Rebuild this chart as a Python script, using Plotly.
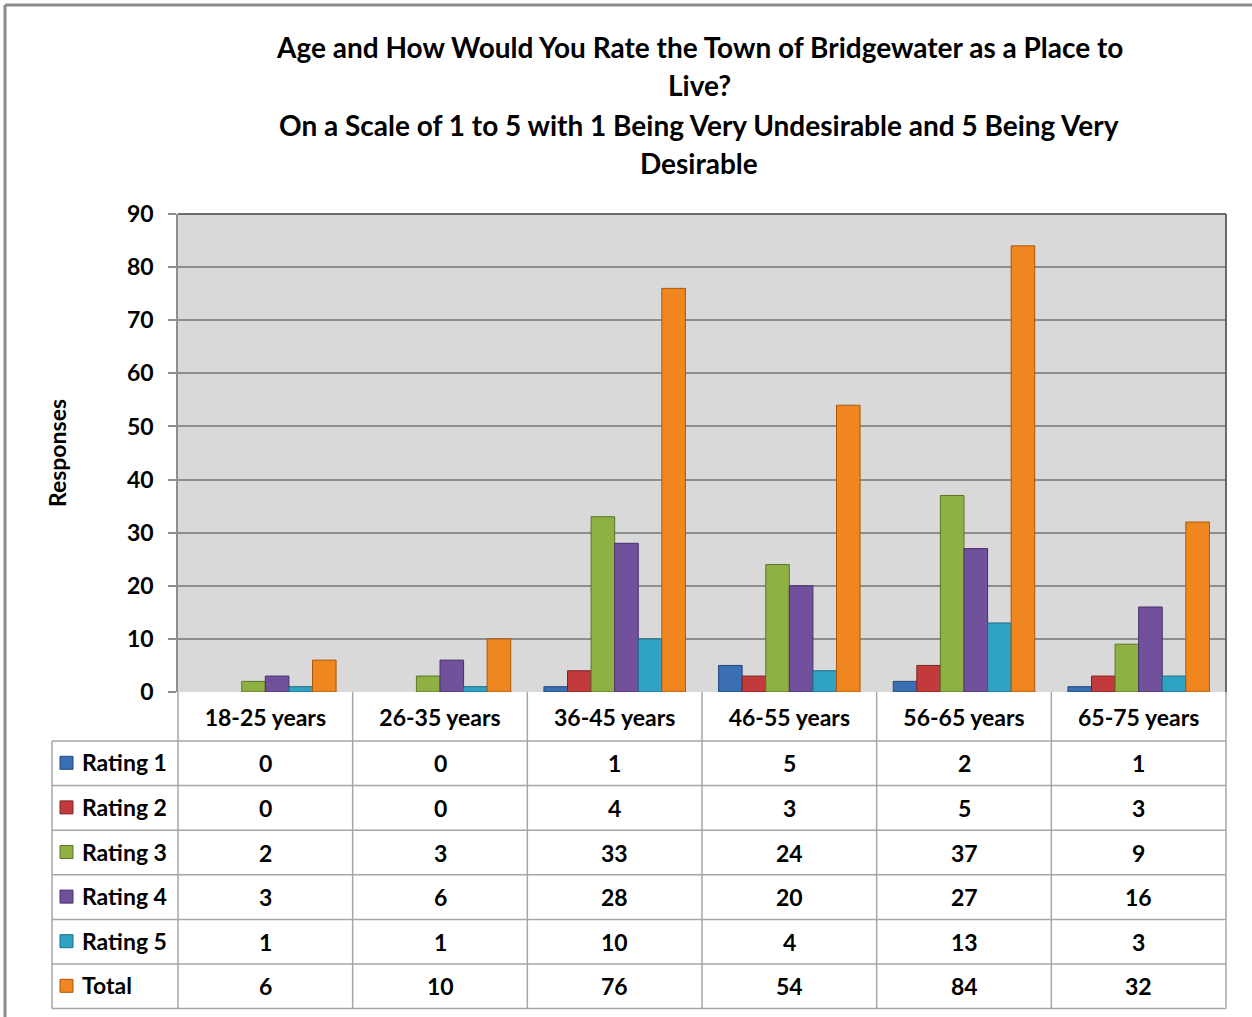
import plotly.graph_objects as go

# ---- data -------------------------------------------------------------
age_groups = ["18-25 years", "26-35 years", "36-45 years",
              "46-55 years", "56-65 years", "65-75 years"]
series_names = ["Rating 1", "Rating 2", "Rating 3", "Rating 4", "Rating 5", "Total"]
rating_1 = [0, 0, 1, 5, 2, 1]
rating_2 = [0, 0, 4, 3, 5, 3]
rating_3 = [2, 3, 33, 24, 37, 9]
rating_4 = [3, 6, 28, 20, 27, 16]
rating_5 = [1, 1, 10, 4, 13, 3]
total = [6, 10, 76, 54, 84, 32]
y_tick_values = [0, 10, 20, 30, 40, 50, 60, 70, 80, 90]

title_lines = [
    "Age and How Would You Rate the Town of Bridgewater as a Place to",
    "Live?",
    "On a Scale of 1 to 5 with 1 Being Very Undesirable and 5 Being Very",
    "Desirable",
]
y_title = "Responses"

series_values = [rating_1, rating_2, rating_3, rating_4, rating_5, total]
fill_colors = ["#3b6fb4", "#c23a3c", "#8fb043", "#72519c", "#30a3c4", "#f0861f"]
edge_colors = ["#24477a", "#7e2325", "#5d7428", "#47306a", "#1d6d85", "#a8570f"]

# ---- page geometry (pixels) -------------------------------------------
W, H = 1252, 1017
L, R, T, B = 178, 1226, 214, 692
TABLE_LEFT = 52
HEADER_BOTTOM = 741
ROW_H = 44.6

FONT = "Lato"
TEXT_SIZE = 23
TITLE_SIZE = 28


def fx(px):
    return (px - L) / (R - L)


def fy(py):
    return (B - py) / (B - T)


fig = go.Figure()
for name, vals, fc, ec in zip(series_names, series_values, fill_colors, edge_colors):
    fig.add_trace(go.Bar(
        x=age_groups, y=vals, name=name,
        marker=dict(color=fc,
                    line=dict(color=ec, width=[0 if v == 0 else 1 for v in vals])),
        showlegend=False,
    ))

shapes = []
annotations = []

# outer chart frame
shapes.append(dict(type="line", xref="paper", yref="paper",
                   x0=fx(5), x1=fx(W), y0=fy(5), y1=fy(5),
                   line=dict(color="#8c8c8c", width=3)))
shapes.append(dict(type="line", xref="paper", yref="paper",
                   x0=fx(5), x1=fx(5), y0=fy(5), y1=fy(H),
                   line=dict(color="#8c8c8c", width=3)))

# plot-area border on top / right
shapes.append(dict(type="line", xref="paper", yref="paper",
                   x0=0, x1=1, y0=1, y1=1, line=dict(color="#404040", width=1.5)))
shapes.append(dict(type="line", xref="paper", yref="paper",
                   x0=1, x1=1, y0=0, y1=1, line=dict(color="#404040", width=1.5)))

# ---- data table beneath the plot --------------------------------------
n_cat = len(age_groups)
n_rows = len(series_names)
grid = dict(color="#a6a6a6", width=1.5)
table_bottom = HEADER_BOTTOM + n_rows * ROW_H

# vertical lines at category boundaries (from axis down to table bottom)
for k in range(n_cat + 1):
    xp = k / n_cat
    shapes.append(dict(type="line", xref="paper", yref="paper",
                       x0=xp, x1=xp, y0=0, y1=fy(table_bottom), line=grid))
# left edge of the row-label column
shapes.append(dict(type="line", xref="paper", yref="paper",
                   x0=fx(TABLE_LEFT), x1=fx(TABLE_LEFT),
                   y0=fy(HEADER_BOTTOM), y1=fy(table_bottom), line=grid))
# horizontal row lines
for r in range(n_rows + 1):
    yp = fy(HEADER_BOTTOM + r * ROW_H)
    shapes.append(dict(type="line", xref="paper", yref="paper",
                       x0=fx(TABLE_LEFT), x1=1, y0=yp, y1=yp, line=grid))

# row labels with colour keys, and cell values
for r, (name, vals, fc, ec) in enumerate(zip(series_names, series_values,
                                             fill_colors, edge_colors)):
    yc = HEADER_BOTTOM + (r + 0.5) * ROW_H
    shapes.append(dict(type="rect", xref="paper", yref="paper",
                       x0=fx(60), x1=fx(73), y0=fy(yc - 7), y1=fy(yc + 6),
                       fillcolor=fc, line=dict(color=ec, width=1)))
    annotations.append(dict(x=fx(80), y=fy(yc - 1), xref="paper", yref="paper",
                            text=f"<b>{name}</b>", showarrow=False,
                            xanchor="left", yanchor="middle",
                            font=dict(family=FONT, size=TEXT_SIZE, color="black")))
    for cat, v in zip(age_groups, vals):
        annotations.append(dict(x=cat, y=fy(yc), xref="x", yref="paper",
                                text=f"<b>{v}</b>", showarrow=False,
                                xanchor="center", yanchor="middle",
                                font=dict(family=FONT, size=TEXT_SIZE, color="black")))

# chart title
title_y = [47, 85, 125, 163]
for line, ty in zip(title_lines, title_y):
    annotations.append(dict(x=fx(699), y=fy(ty), xref="paper", yref="paper",
                            text=f"<b>{line}</b>", showarrow=False,
                            xanchor="center", yanchor="middle",
                            font=dict(family=FONT, size=TITLE_SIZE, color="black")))

fig.update_layout(
    width=W, height=H, autosize=False,
    margin=dict(l=L, r=W - R, t=T, b=H - B, pad=0),
    paper_bgcolor="white",
    plot_bgcolor="#d9d9d9",
    barmode="group",
    bargap=0.19,
    bargroupgap=0,
    font=dict(family=FONT, color="black"),
    shapes=shapes,
    annotations=annotations,
    xaxis=dict(
        type="category",
        range=[-0.5, n_cat - 0.5],
        showgrid=False, zeroline=False,
        showline=False,
        ticks="",
        tickfont=dict(family=FONT, size=TEXT_SIZE, color="black", weight="bold"),
        ticklabelstandoff=10,
    ),
    yaxis=dict(
        range=[0, 90],
        tickvals=y_tick_values,
        showgrid=True, gridcolor="#8e8e8e", gridwidth=1.5,
        zeroline=False,
        showline=True, linecolor="#8e8e8e", linewidth=1.5,
        ticks="outside", ticklen=8, tickcolor="#8e8e8e", tickwidth=1.5,
        tickfont=dict(family=FONT, size=TEXT_SIZE, color="black", weight="bold"),
        ticklabelstandoff=10,
        title=dict(text=f"<b>{y_title}</b>",
                   font=dict(family=FONT, size=TEXT_SIZE, color="black"),
                   standoff=54),
    ),
)

fig.write_html("out.html")
